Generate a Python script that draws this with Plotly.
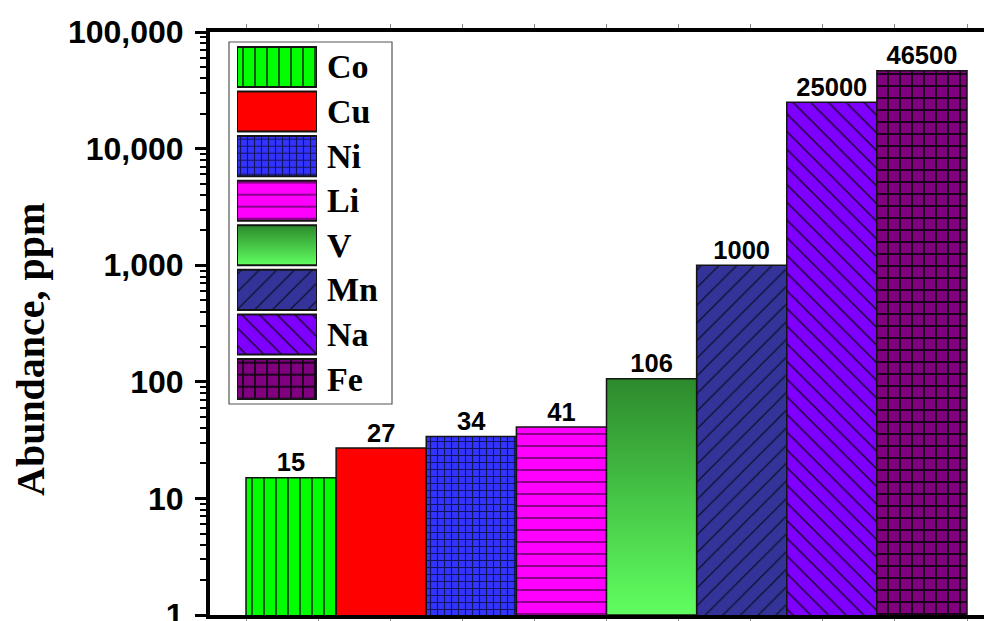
import plotly.graph_objects as go

# ---------------- data ----------------
elements = ["Co", "Cu", "Ni", "Li", "V", "Mn", "Na", "Fe"]
abundance = [15, 27, 34, 41, 106, 1000, 25000, 46500]
value_labels = ["15", "27", "34", "41", "106", "1000", "25000", "46500"]
ytick_vals = [1, 10, 100, 1000, 10000, 100000]
ytick_text = ["1", "10", "100", "1,000", "10,000", "100,000"]

# ---------------- styles ----------------
fill_colors = ["#00ff00", "#ff0000", "#3333ff", "#ff00ff", None, "#333399", "#7f00ff", "#800080"]
pat_shapes = ["|", "", "+", "-", "", "/", "\\", "+"]
pat_fg = ["#0b5a0b", "#000000", "#14145a", "#6a006a", "#000000", "#10102a", "#1a0030", "#1a001a"]
pat_size = [12, 8, 7, 12, 8, 12.5, 12.5, 12]
pat_sol = [0.17, 0.2, 0.3, 0.13, 0.2, 0.1, 0.12, 0.3]
grad_scale = [[0, "#60ff60"], [1, "#2c8a2c"]]
OUTLINE = "#141414"

# page is 992x621; the page body adds an 8px offset, so the figure is 984x613
OFF = 8
W, H = 992 - OFF, 621 - OFF
ML, MR, MT, MB = 210 - OFF, 0, 32 - OFF, 6
PW, PH = W - ML - MR, H - MT - MB

def px_x(p):
    return (p - OFF - ML) / PW

def px_y(p):
    return (H - MB - (p - OFF)) / PH

fig = go.Figure()

idx = list(range(len(elements)))

for i in idx:
    if fill_colors[i] is not None:
        pat = dict(shape=pat_shapes[i], fgcolor=pat_fg[i], bgcolor=fill_colors[i],
                   size=pat_size[i], solidity=pat_sol[i], fillmode="replace")
        # main bar
        fig.add_trace(go.Bar(x=[i], y=[abundance[i]], width=1,
                             marker=dict(color=fill_colors[i], pattern=pat,
                                         line=dict(color=OUTLINE, width=1.5)),
                             showlegend=False, hoverinfo="skip",
                             xaxis="x", yaxis="y"))
        # legend swatch
        fig.add_trace(go.Bar(x=[1], y=[i], width=0.9, orientation="h",
                             marker=dict(color=fill_colors[i], pattern=pat,
                                         line=dict(color=OUTLINE, width=2)),
                             showlegend=False, hoverinfo="skip",
                             xaxis="x2", yaxis="y2"))
    else:
        # gradient-filled bar drawn as filled area built from the value
        v = abundance[i]
        fig.add_trace(go.Scatter(x=[i - 0.5, i + 0.5, i + 0.5, i - 0.5, i - 0.5],
                                 y=[1, 1, v, v, 1], mode="lines", fill="toself",
                                 fillgradient=dict(type="vertical", colorscale=grad_scale),
                                 line=dict(color=OUTLINE, width=1.5),
                                 showlegend=False, hoverinfo="skip",
                                 xaxis="x", yaxis="y"))
        fig.add_trace(go.Scatter(x=[0, 1, 1, 0, 0],
                                 y=[i + 0.45, i + 0.45, i - 0.45, i - 0.45, i + 0.45],
                                 mode="lines", fill="toself",
                                 fillgradient=dict(type="vertical", colorscale=grad_scale),
                                 line=dict(color=OUTLINE, width=2),
                                 showlegend=False, hoverinfo="skip",
                                 xaxis="x2", yaxis="y2"))

# value labels
fig.add_trace(go.Scatter(x=idx, y=abundance, text=value_labels, mode="text",
                         textposition="top center",
                         textfont=dict(family="Liberation Sans", size=25.5, weight="bold", color="#000"),
                         showlegend=False, hoverinfo="skip", cliponaxis=False,
                         xaxis="x", yaxis="y"))

# axis geometry (pixel alignments)
unit = (967 - 246) / len(elements)
x_lo = -0.5 - (246 - 210) / unit
x_hi = len(elements) - 0.5 + (992 - 967) / unit
xtick_vals = [-0.5 + k * len(elements) / 10 for k in range(11)]
minor_vals = [m * 10 ** d for d in range(5) for m in range(2, 10)]

fig.update_layout(
    width=W, height=H,
    margin=dict(l=ML, r=MR, t=MT, b=MB, autoexpand=False),
    paper_bgcolor="white", plot_bgcolor="white",
    showlegend=False,
    xaxis=dict(domain=[0, 1], range=[x_lo, x_hi], showgrid=False, zeroline=False,
               automargin=False,
               showline=True, linecolor="#000", linewidth=3.5, mirror="ticks",
               tickmode="array", tickvals=xtick_vals, ticks="outside",
               ticklen=4, tickwidth=1, tickcolor="#888", showticklabels=False),
    yaxis=dict(type="log", range=[0, 5], showgrid=False, zeroline=False,
               automargin=False,
               showline=True, linecolor="#000", linewidth=4,
               tickmode="array", tickvals=ytick_vals, ticktext=ytick_text,
               ticks="outside", ticklen=11, tickwidth=3, tickcolor="#000",
               ticklabelstandoff=5, ticklabeloverflow="allow",
               tickfont=dict(family="Liberation Sans", size=32, weight="bold", color="#000"),
               minor=dict(tickmode="array", tickvals=minor_vals, ticks="outside",
                          ticklen=6, tickwidth=2, tickcolor="#000")),
    xaxis2=dict(domain=[px_x(237), px_x(317)], range=[0, 1], visible=False, anchor="y2",
                automargin=False),
    yaxis2=dict(domain=[px_y(401.3), px_y(44.7)], range=[len(elements) - 0.5, -0.5],
                visible=False, anchor="x2", automargin=False),
    shapes=[dict(type="rect", xref="paper", yref="paper",
                 x0=px_x(229), x1=px_x(392), y0=px_y(404), y1=px_y(42),
                 line=dict(color="#555", width=1.2), fillcolor="white", layer="below")],
)

annotations = []
for i, name in enumerate(elements):
    annotations.append(dict(x=1, y=i, xref="x2", yref="y2", text=name, showarrow=False,
                            xanchor="left", yanchor="middle", xshift=8,
                            font=dict(family="Liberation Serif", size=34, weight="bold", color="#000")))
annotations.append(dict(x=px_x(30), y=px_y(350), xref="paper", yref="paper",
                        text="Abundance, ppm", textangle=-90, showarrow=False,
                        xanchor="center", yanchor="middle",
                        font=dict(family="Liberation Serif", size=40, weight="bold", color="#000")))
fig.update_layout(annotations=annotations)

fig.write_html("out.html")
